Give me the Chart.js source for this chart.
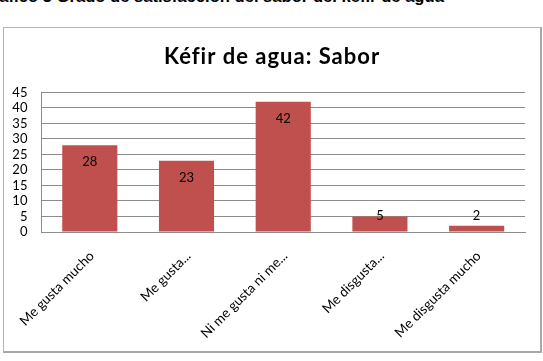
<!DOCTYPE html>
<html>
<head>
<meta charset="utf-8">
<script src="https://cdn.jsdelivr.net/npm/chart.js@4"></script>
<style>
  html, body { margin: 0; padding: 0; background: #fff; }
  body { width: 543px; height: 361px; position: relative; overflow: hidden; }
  #caption { position: absolute; left: -20px; top: -13px; font: bold 16.6px "Liberation Sans", Arial, sans-serif; color: #000; white-space: nowrap; }
  #frame { position: absolute; left: 3px; top: 27px; width: 536px; height: 323px; border: 1px solid #b4b4b4; border-right: 2px solid #a8a8a8; border-bottom: 2px solid #a8a8a8; pointer-events: none; }
  #wrap { position: absolute; left: 0; top: 0; width: 543px; height: 361px; }
</style>
</head>
<body>
<div id="caption">Gráfico 3 Grado de satisfacción del sabor del kéfir de agua</div>
<div id="wrap"><canvas id="c" width="543" height="361"></canvas></div>
<div id="frame"></div>
<script>
const categories = ["Me gusta mucho", "Me gusta...", "Ni me gusta ni me...", "Me disgusta...", "Me disgusta mucho"];
const values = [28, 23, 42, 5, 2];
const yTicks = [0, 5, 10, 15, 20, 25, 30, 35, 40, 45];
const chartTitle = "Kéfir de agua: Sabor";

const FRAME_CENTER_X = 272;

const labelPlugin = {
  id: 'barLabels',
  afterLayout(chart) {
    const tb = chart.titleBlock;
    if (tb && !tb._spaced) {
      const orig = tb.draw.bind(tb);
      tb.draw = function (area) {
        const ctx = chart.ctx;
        ctx.save();
        ctx.letterSpacing = '1px';
        ctx.translate(FRAME_CENTER_X - (tb.left + tb.right) / 2, 0);
        orig(area);
        ctx.restore();
      };
      tb._spaced = true;
    }
  },
  afterDatasetsDraw(chart) {
    const ctx = chart.ctx;
    const meta = chart.getDatasetMeta(0);
    ctx.save();
    ctx.font = '13px Lato';
    ctx.fillStyle = '#000';
    ctx.textAlign = 'center';
    ctx.textBaseline = 'middle';
    meta.data.forEach((el, i) => {
      const y = Math.min(el.y + 16.7, el.base - 15.5);
      ctx.fillText(String(chart.data.datasets[0].data[i]), el.x, y);
    });
    ctx.restore();
  }
};

new Chart(document.getElementById('c'), {
  type: 'bar',
  data: {
    labels: categories,
    datasets: [{
      data: values,
      backgroundColor: '#C0504D',
      borderWidth: 0,
      barPercentage: 0.57,
      categoryPercentage: 1
    }]
  },
  options: {
    responsive: false,
    animation: false,
    devicePixelRatio: 1,
    layout: { padding: { top: 44, right: 18, left: 0, bottom: 0 } },
    plugins: {
      legend: { display: false },
      tooltip: { enabled: false },
      title: {
        display: true,
        text: chartTitle,
        color: '#000',
        font: { family: 'Lato', size: 22, weight: 'bold' },
        padding: { top: 0, bottom: 22 }
      }
    },
    scales: {
      y: {
        min: 0, max: 45,
        afterBuildTicks: (s) => { s.ticks = yTicks.map(v => ({ value: v })); },
        afterFit: (s) => { s.width = 41; },
        ticks: { color: '#000', font: { family: 'Lato', size: 13 }, padding: 14, autoSkip: false },
        grid: { color: '#8c8c8c', lineWidth: 1, drawTicks: false },
        border: { color: '#8c8c8c', width: 1 }
      },
      x: {
        afterFit: (s) => { s.height = 129; },
        ticks: { color: '#000', font: { family: 'Lato', size: 13.5 }, minRotation: 45, maxRotation: 45, padding: 16, labelOffset: 2, autoSkip: false },
        grid: { display: false, drawTicks: false },
        border: { color: '#8c8c8c', width: 1 }
      }
    }
  },
  plugins: [labelPlugin]
});
</script>
</body>
</html>
